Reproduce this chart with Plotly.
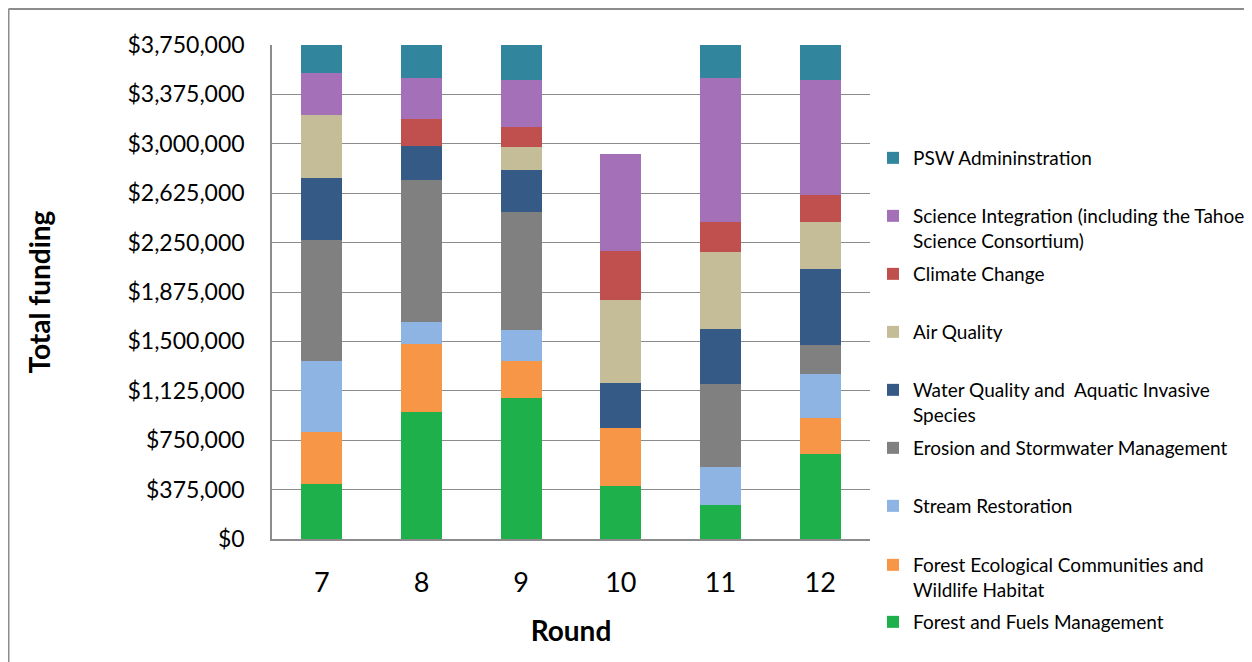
import plotly.graph_objects as go

# ---------------- data ----------------
rounds = ["7", "8", "9", "10", "11", "12"]

forest_fuels = [414000, 966000, 1067000, 399000, 258000, 645000]
forest_eco = [397500, 516000, 286000, 440000, 0, 270000]
stream = [541000, 167000, 233000, 0, 285000, 334000]
erosion = [916000, 1080000, 898000, 0, 630000, 220000]
water = [473000, 258000, 319000, 344500, 422500, 577000]
air = [475500, 0, 172000, 632000, 582000, 362000]
climate = [0, 205000, 149000, 374000, 227500, 205000]
science = [321000, 306500, 364000, 731500, 1092500, 875000]
psw = [212500, 252500, 263000, 0, 252500, 263000]

names = [
    "Forest and Fuels Management",
    "Forest Ecological Communities and<br>Wildlife Habitat",
    "Stream Restoration",
    "Erosion and Stormwater Management",
    "Water Quality and  Aquatic Invasive<br>Species",
    "Air Quality",
    "Climate Change",
    "Science Integration (including the Tahoe<br>Science Consortium)",
    "PSW Admininstration",
]
values = [forest_fuels, forest_eco, stream, erosion, water, air, climate, science, psw]
colors = ["#1EB04B", "#F79646", "#8EB4E3", "#808080", "#345A85",
          "#C4BD97", "#C0504D", "#A471B8", "#31859C"]

y_ticks = [0, 375000, 750000, 1125000, 1500000, 1875000, 2250000,
           2625000, 3000000, 3375000, 3750000]

# ---------------- layout constants ----------------
W, H = 1252, 662
OFF = 8  # page body margin offset
# target plot area in page pixels: x 272..870, y 45..539
ML = 272 - OFF
MT = 45 - OFF
MR = W - (870 - OFF)
MB = H - (539 - OFF)
PW, PH = W - ML - MR, H - MT - MB
FONT = "Lato, Calibri, Carlito, sans-serif"
GRID = "#8C8C8C"

# legend slot rows (first text line centre, page px), top slot first
legend_rows = [159, 217, 275, 333, 391, 449, 507, 566, 623]
LEG_TEXT_X = 913

fig = go.Figure()
legends = {}
n = len(names)
for i, (nm, vals, col) in enumerate(zip(names, values, colors)):
    key = "legend" if i == 0 else f"legend{i + 1}"
    fig.add_trace(go.Bar(
        x=rounds, y=vals, name=nm,
        marker=dict(color=col, line=dict(width=0)),
        width=0.41, legend=key,
    ))
    slot = n - 1 - i
    legends[key] = dict(
        xref="container", yref="container",
        x=(LEG_TEXT_X - 40 - OFF) / W, xanchor="left",
        y=1 - (legend_rows[slot] - OFF - 20) / H, yanchor="top",
        valign="top",
        font=dict(family=FONT, size=19, color="#000000"),
        bgcolor="rgba(0,0,0,0)",
    )

fig.update_layout(
    width=W, height=H,
    margin=dict(l=ML, r=MR, t=MT, b=MB, pad=0, autoexpand=False),
    barmode="stack",
    paper_bgcolor="white", plot_bgcolor="white",
    font=dict(family=FONT, color="#000000"),
    showlegend=True,
    **legends,
)

fig.update_xaxes(
    type="category",
    showline=True, linecolor=GRID, linewidth=1.5,
    showgrid=False, ticks="",
    tickfont=dict(family=FONT, size=27),
    ticklabelstandoff=19,
    title=dict(text="Round", font=dict(family=FONT, size=28, weight="bold"),
               standoff=24),
)
fig.update_yaxes(
    range=[0, 3750000],
    tickvals=y_ticks, tickformat="$,.0f",
    showline=True, linecolor=GRID, linewidth=1.5,
    showgrid=True, gridcolor=GRID, gridwidth=1.3,
    zeroline=False, ticks="",
    tickfont=dict(family=FONT, size=23),
    ticklabelstandoff=21,
    title=dict(text="Total funding", font=dict(family=FONT, size=28, weight="bold"),
               standoff=69),
)

# outer chart-area border (top and left edges visible)
def px_to_paper_x(fx):
    return (fx - ML) / PW

def px_to_paper_y(fy):
    return (H - MB - fy) / PH

bx = px_to_paper_x(0.5)
by_top = px_to_paper_y(1)
by_bot = px_to_paper_y(H + 20)
bx_right = px_to_paper_x(W + 20)
fig.add_shape(type="line", xref="paper", yref="paper", x0=bx, x1=bx, y0=by_bot, y1=by_top,
              line=dict(color=GRID, width=2))
fig.add_shape(type="line", xref="paper", yref="paper", x0=bx, x1=bx_right, y0=by_top, y1=by_top,
              line=dict(color=GRID, width=2))

fig.write_html("out.html")
